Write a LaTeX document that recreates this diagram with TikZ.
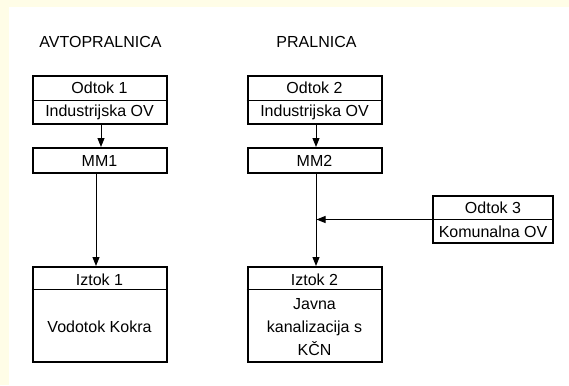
\documentclass[tikz,border=0pt]{standalone}
\usepackage{fontspec}
\setmainfont{Liberation Sans}
\usetikzlibrary{arrows.meta}
\definecolor{cream}{HTML}{FFFDE7}
\begin{document}
\begin{tikzpicture}[x=1pt,y=-1pt,
  outer/.style={draw, line width=2pt, inner sep=0pt, fill=white},
  lbl/.style={inner sep=0pt, font=\fontsize{16}{23}\selectfont, align=center},
  div/.style={line width=1pt},
  arr/.style={line width=1pt, -{Triangle[length=9pt,width=7pt]}}]
\useasboundingbox (0,0) rectangle (569,385);
\fill[cream] (0,0) rectangle (569,385);
\fill[white] (9,7) rectangle (569,385);

% titles
\node[lbl] (t1) at (100.5,42) {AVTOPRALNICA};
\node[lbl] (t2) at (316.5,42) {PRALNICA};

% left column
\node[outer, minimum width=134pt, minimum height=48pt] (o1) at (99.5,100) {};
\draw[div] (o1.west) -- (o1.east);
\node[lbl] (o1a) at (99.5,88) {Odtok 1};
\node[lbl] (o1b) at (99.5,112) {Industrijska OV};

\node[outer, minimum width=134pt, minimum height=25pt] (mm1) at (99.5,160.5) {};
\node[lbl] (mm1t) at (99.5,160.5) {MM1};

\node[outer, minimum width=134pt, minimum height=95pt] (iz1) at (99.5,314.5) {};
\draw[div] ([yshift=-23.5pt]iz1.north west) -- ([yshift=-23.5pt]iz1.north east);
\node[lbl] (iz1a) at (99.5,279.5) {Iztok 1};
\node[lbl] (iz1b) at (99.5,327) {Vodotok Kokra};

% right column
\node[outer, minimum width=134pt, minimum height=48pt] (o2) at (314.5,100) {};
\draw[div] (o2.west) -- (o2.east);
\node[lbl] (o2a) at (314.5,88) {Odtok 2};
\node[lbl] (o2b) at (314.5,112) {Industrijska OV};

\node[outer, minimum width=134pt, minimum height=25pt] (mm2) at (314.5,160.5) {};
\node[lbl] (mm2t) at (314.5,160.5) {MM2};

\node[outer, minimum width=134pt, minimum height=95pt] (iz2) at (314.5,314.5) {};
\draw[div] ([yshift=-23.5pt]iz2.north west) -- ([yshift=-23.5pt]iz2.north east);
\node[lbl] (iz2a) at (314.5,279.5) {Iztok 2};
\node[lbl] (iz2b) at (314.5,327) {Javna\\kanalizacija s\\KČN};

% Odtok 3
\node[outer, minimum width=120pt, minimum height=47pt] (o3) at (493,219.5) {};
\draw[div] (o3.west) -- (o3.east);
\node[lbl] (o3a) at (493,208) {Odtok 3};
\node[lbl] (o3b) at (493,231.5) {Komunalna OV};

% connectors
\draw[arr] ([xshift=1.5pt]o1.south) -- ([xshift=1.5pt]mm1.north);
\draw[arr] ([xshift=-3.5pt]mm1.south) -- ([xshift=-3.5pt]iz1.north);
\draw[arr] ([xshift=1.5pt]o2.south) -- ([xshift=1.5pt]mm2.north);
\draw[arr] ([xshift=1.5pt]mm2.south) -- ([xshift=1.5pt]iz2.north);
\coordinate (j) at ([xshift=2pt]mm2.south |- o3.west);
\draw[arr] (o3.west) -- (j);
\end{tikzpicture}
\end{document}
